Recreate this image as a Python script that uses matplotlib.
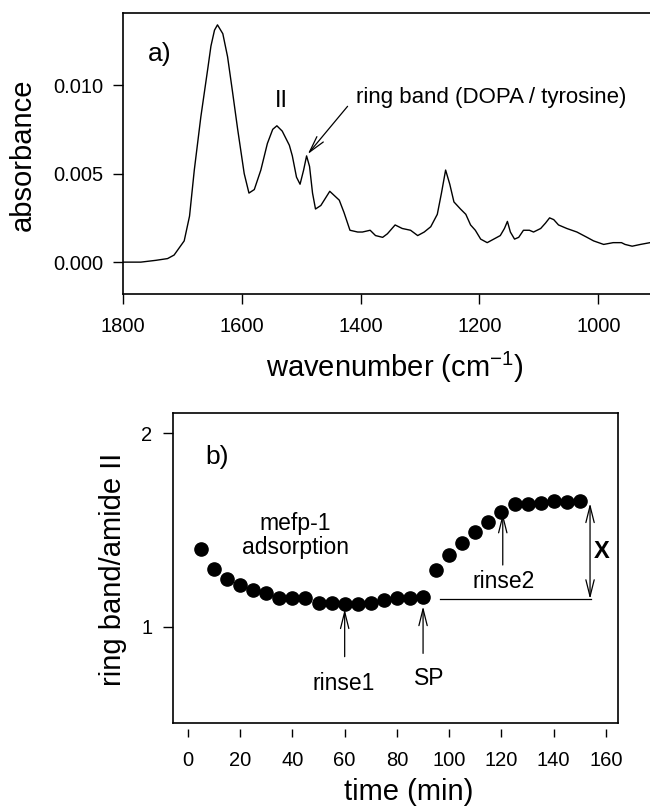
import numpy as np
import matplotlib
matplotlib.use("Agg")
import matplotlib.pyplot as plt

plt.rcParams['font.family'] = ['Liberation Sans', 'DejaVu Sans']
plt.rcParams['mathtext.default'] = 'regular'

# panel a: IR spectrum
wavenumber = [1800, 1770, 1745, 1725, 1714, 1697, 1688, 1680, 1669, 1657, 1652, 1646,
              1641, 1632, 1624, 1616, 1607, 1596, 1588, 1579, 1568, 1557, 1548, 1541,
              1532, 1520, 1515, 1508, 1502, 1496, 1491, 1486, 1481, 1476, 1467, 1452,
              1436, 1428, 1418, 1405, 1397, 1384, 1375, 1363, 1355, 1342, 1330, 1316,
              1304, 1293, 1282, 1271, 1264, 1257, 1250, 1243, 1232, 1223, 1215, 1207,
              1198, 1187, 1176, 1165, 1158, 1153, 1148, 1141, 1134, 1126, 1116, 1109,
              1097, 1089, 1082, 1075, 1067, 1053, 1036, 1019, 1008, 991, 975, 961,
              955, 943, 929, 913]
absorbance = [0.0000, 0.0000, 0.0001, 0.0002, 0.0004, 0.0012, 0.0026, 0.0052, 0.0082, 0.0110, 0.0122, 0.0131,
              0.0134, 0.0129, 0.0116, 0.0097, 0.0075, 0.0050, 0.0039, 0.0041, 0.0052, 0.0067, 0.0075, 0.0077,
              0.0074, 0.0066, 0.0060, 0.0048, 0.0044, 0.0052, 0.0060, 0.0054, 0.0039, 0.0030, 0.0032, 0.0040,
              0.0035, 0.0028, 0.0018, 0.0017, 0.0017, 0.0018, 0.0015, 0.0014, 0.0016, 0.0021, 0.0019, 0.0018,
              0.0015, 0.0017, 0.0020, 0.0027, 0.0039, 0.0052, 0.0044, 0.0034, 0.0030, 0.0027, 0.0021, 0.0018,
              0.0013, 0.0011, 0.0013, 0.0015, 0.0019, 0.0023, 0.0017, 0.0013, 0.0014, 0.0018, 0.0018, 0.0017,
              0.0019, 0.0022, 0.0025, 0.0024, 0.0021, 0.0019, 0.0017, 0.0014, 0.0012, 0.0010, 0.0011, 0.0011,
              0.0010, 0.0009, 0.0010, 0.0011]

# panel b: ring band / amide II ratio vs time
time_min = [5, 10, 15, 20, 25, 30, 35, 40, 45, 50, 55, 60, 65, 70, 75,
            80, 85, 90, 95, 100, 105, 110, 115, 120, 125, 130, 135, 140, 145, 150]
ratio = [1.40, 1.30, 1.245, 1.216, 1.19, 1.176, 1.147, 1.147, 1.147, 1.124, 1.124, 1.116, 1.116, 1.124, 1.138,
         1.15, 1.15, 1.155, 1.293, 1.371, 1.431, 1.491, 1.543, 1.595, 1.634, 1.634, 1.641, 1.652, 1.647, 1.652]

W, H = 650, 807
fig = plt.figure(figsize=(6.5, 8.07), dpi=100)

def px(l, t, r, b):
    return [l / W, 1 - b / H, (r - l) / W, (b - t) / H]

# ---------- panel a ----------
ax1 = fig.add_axes(px(123, 13, 650, 294))
ax1.plot(wavenumber, absorbance, color='k', lw=1.0)
ax1.set_xlim(1800, 913)
ax1.set_ylim(-0.0018, 0.01407)
ax1.set_xticks([1800, 1600, 1400, 1200, 1000])
ax1.set_yticks([0.0, 0.005, 0.010])
ax1.set_yticklabels(['0.000', '0.005', '0.010'])
ax1.spines['right'].set_visible(False)
for s in ax1.spines.values():
    s.set_linewidth(1.2)
ax1.tick_params(axis='x', direction='out', length=7.5, width=1.0, pad=9, labelsize=14.5)
ax1.tick_params(axis='y', direction='out', length=7, width=1.0, pad=7, labelsize=14.5)

ax1.text(1758, 0.01175, 'a)', fontsize=19, va='center', ha='left')
ax1.text(1534, 0.0091, 'II', fontsize=17, va='center', ha='center')
ax1.annotate('', xy=(1489, 0.0061), xytext=(1422, 0.0088),
             arrowprops=dict(arrowstyle='->,head_length=1.2,head_width=0.3',
                             lw=0.9, color='k', mutation_scale=10, shrinkA=0, shrinkB=0))
ax1.text(1407, 0.0093, 'ring band (DOPA / tyrosine)', fontsize=16, va='center', ha='left')

fig.text(395 / W, 1 - 377 / H, 'wavenumber (cm$^{-1}$)', fontsize=21,
         ha='center', va='baseline')
fig.text(23 / W, 1 - 155 / H, 'absorbance', fontsize=21, rotation=90,
         ha='center', va='center')

# ---------- panel b ----------
ax2 = fig.add_axes(px(173, 413, 618, 723))
ax2.plot(time_min, ratio, 'o', color='k', ms=9.5)
ax2.set_xlim(-5.7, 164.6)
ax2.set_ylim(0.502, 2.105)
ax2.set_xticks(np.arange(0, 161, 20))
ax2.set_yticks([1, 2])
for s in ax2.spines.values():
    s.set_linewidth(1.2)
ax2.spines['bottom'].set_position(('outward', 4))
ax2.spines['bottom'].set_visible(False)
ax2.plot([0, 1], [0, 0], transform=ax2.transAxes, color='k', lw=1.2, clip_on=False)
ax2.tick_params(axis='x', direction='out', length=5.5, width=1.0, pad=11, labelsize=14.5)
ax2.tick_params(axis='y', direction='out', length=7, width=1.0, pad=8, labelsize=14.5)

ax2.text(6.5, 1.879, 'b)', fontsize=19, va='center', ha='left')
ax2.text(41, 1.47, 'mefp-1\nadsorption', fontsize=16.5, va='center', ha='center',
         linespacing=1.05)

arrow_kw = dict(arrowstyle='->,head_length=1.2,head_width=0.3', lw=0.9, color='k',
                mutation_scale=10, shrinkA=0, shrinkB=0)
ax2.annotate('', xy=(60, 1.09), xytext=(60, 0.845), arrowprops=arrow_kw)
ax2.text(59.5, 0.707, 'rinse1', fontsize=16.5, ha='center', va='center')
ax2.annotate('', xy=(90, 1.105), xytext=(90, 0.862), arrowprops=arrow_kw)
ax2.text(92.4, 0.734, 'SP', fontsize=16.5, ha='center', va='center')
ax2.annotate('', xy=(120.5, 1.585), xytext=(120.5, 1.319), arrowprops=arrow_kw)
ax2.text(121, 1.233, 'rinse2', fontsize=16.5, ha='center', va='center')

ax2.plot([96.4, 154.4], [1.143, 1.143], color='k', lw=0.9)
ax2.annotate('', xy=(153.9, 1.638), xytext=(153.9, 1.143),
             arrowprops=dict(arrowstyle='<->,head_length=1.2,head_width=0.3', lw=0.9,
                             color='k', mutation_scale=10, shrinkA=0, shrinkB=0))
ax2.text(158.3, 1.388, 'X', fontsize=17, fontweight='bold', ha='center', va='center')

fig.text(409 / W, 1 - 800 / H, 'time (min)', fontsize=21, ha='center', va='baseline')
fig.text(113 / W, 1 - 569 / H, 'ring band/amide II', fontsize=21, rotation=90,
         ha='center', va='center')

fig.savefig('out.png', dpi=100)
